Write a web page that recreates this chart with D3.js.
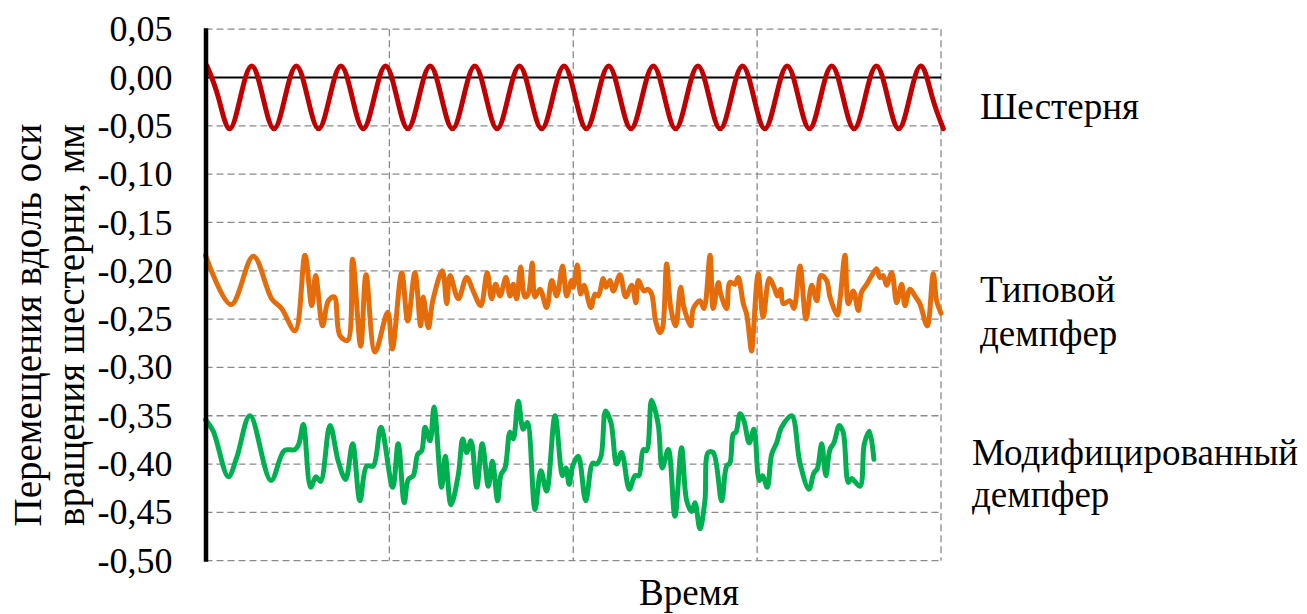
<!DOCTYPE html>
<html><head><meta charset="utf-8">
<script src="https://cdn.jsdelivr.net/npm/d3@7"></script>
<style>
html,body{margin:0;padding:0;background:#fff;}
svg text{font-family:"Liberation Serif","Times New Roman",serif;fill:#000;}
</style></head>
<body>
<svg id="chart" width="1307" height="614"></svg>
<script>
// ---- data ----
const yTicks = [0.05, 0, -0.05, -0.10, -0.15, -0.20, -0.25, -0.30, -0.35, -0.40, -0.45, -0.50];
const timeGrid = [0, 100, 200, 300, 400];
const seriesNames = ["Шестерня", "Типовой демпфер", "Модифицированный демпфер"];
const yTitle = ["Перемещения вдоль оси", "вращения шестерни, мм"];
const xTitle = "Время";

// Шестерня: values read at each quarter period (peak / middle / trough)
const gearStart = 0.85, gearStep = 6.067;
const gearVals = [
 0.012,-0.020,-0.053,-0.020, 0.012,-0.020,-0.053,-0.020, 0.012,-0.020,-0.053,-0.020,
 0.012,-0.020,-0.053,-0.020, 0.012,-0.020,-0.053,-0.020, 0.012,-0.020,-0.053,-0.020,
 0.012,-0.020,-0.053,-0.020, 0.012,-0.020,-0.053,-0.020, 0.012,-0.020,-0.053,-0.020,
 0.012,-0.020,-0.053,-0.020, 0.012,-0.020,-0.053,-0.020, 0.012,-0.020,-0.053,-0.020,
 0.012,-0.020,-0.053,-0.020, 0.012,-0.020,-0.053,-0.020, 0.012,-0.020,-0.053,-0.020,
 0.012,-0.020,-0.053,-0.020, 0.012,-0.020,-0.053];

// Типовой демпфер: [time, value]
const typicalPts = [[0,-0.184],[13.9,-0.235],[26.0,-0.185],[36.0,-0.229],[41.4,-0.239],[48.7,-0.262],[54.1,-0.184],[57.8,-0.236],[59.9,-0.205],[63.7,-0.257],[66.8,-0.231],[70.0,-0.227],[73.1,-0.267],[77.3,-0.272],[80.0,-0.188],[84.4,-0.278],[87.3,-0.204],[92.2,-0.284],[99.1,-0.243],[101.6,-0.281],[106.7,-0.202],[110.0,-0.252],[113.9,-0.202],[117.0,-0.257],[118.4,-0.227],[121.2,-0.259],[123.6,-0.231],[128.8,-0.200],[131.2,-0.234],[133.0,-0.205],[137.5,-0.229],[142.0,-0.207],[145.6,-0.221],[149.7,-0.236],[153.2,-0.202],[155.6,-0.229],[157.8,-0.214],[160.2,-0.226],[163.4,-0.207],[165.6,-0.226],[167.4,-0.214],[169.2,-0.229],[171.4,-0.196],[173.7,-0.227],[175.5,-0.224],[177.7,-0.192],[179.2,-0.227],[181.9,-0.219],[185.5,-0.238],[188.3,-0.210],[191.0,-0.226],[194.2,-0.195],[196.4,-0.226],[199.1,-0.210],[200.0,-0.217],[202.2,-0.194],[204.0,-0.224],[205.8,-0.215],[209.6,-0.238],[211.8,-0.224],[213.6,-0.226],[216.3,-0.208],[217.8,-0.217],[220.0,-0.210],[221.8,-0.221],[225.4,-0.204],[228.5,-0.227],[231.8,-0.215],[234.1,-0.233],[235.4,-0.210],[238.5,-0.221],[240.5,-0.219],[242.6,-0.224],[244.8,-0.252],[247.2,-0.264],[248.6,-0.259],[250.8,-0.193],[253.0,-0.238],[255.7,-0.257],[258.4,-0.217],[260.2,-0.238],[263.9,-0.257],[265.3,-0.239],[268.9,-0.231],[271.1,-0.239],[274.4,-0.184],[276.1,-0.239],[278.9,-0.212],[280.2,-0.224],[283.4,-0.239],[285.2,-0.212],[287.9,-0.214],[289.7,-0.207],[292.5,-0.234],[294.3,-0.245],[297.0,-0.283],[297.9,-0.265],[300.6,-0.203],[303.3,-0.248],[306.6,-0.208],[309.2,-0.217],[311.0,-0.226],[312.8,-0.219],[314.2,-0.234],[317.9,-0.231],[320.0,-0.239],[323.3,-0.195],[326.6,-0.250],[329.7,-0.215],[332.4,-0.231],[334.7,-0.205],[337.8,-0.210],[339.6,-0.227],[343.6,-0.246],[345.0,-0.231],[347.8,-0.184],[349.6,-0.234],[352.3,-0.221],[355.0,-0.241],[356.8,-0.222],[359.6,-0.214],[362.3,-0.205],[365.0,-0.198],[366.8,-0.207],[368.6,-0.205],[370.4,-0.215],[373.2,-0.202],[375.9,-0.233],[378.6,-0.214],[380.4,-0.236],[383.1,-0.219],[385.8,-0.226],[388.5,-0.234],[392.5,-0.257],[395.8,-0.203],[397.6,-0.231],[400,-0.244]];

// Модифицированный демпфер: [time, value]
const modifiedPts = [[0,-0.354],[4.2,-0.366],[12.4,-0.413],[17.0,-0.393],[24.2,-0.350],[35.6,-0.417],[42.9,-0.386],[48.7,-0.385],[50.8,-0.379],[53.2,-0.359],[57.2,-0.424],[60.1,-0.413],[62.6,-0.418],[67.7,-0.360],[72.2,-0.397],[76.2,-0.416],[80.0,-0.379],[84.0,-0.438],[87.7,-0.402],[91.2,-0.402],[95.4,-0.362],[101.8,-0.424],[104.8,-0.379],[108.1,-0.440],[110.3,-0.416],[113.0,-0.412],[115.4,-0.390],[117.6,-0.386],[119.4,-0.362],[122.1,-0.376],[124.3,-0.341],[128.4,-0.424],[130.4,-0.392],[133.5,-0.442],[137.5,-0.411],[139.9,-0.374],[142.0,-0.388],[144.4,-0.376],[147.5,-0.424],[150.5,-0.379],[153.8,-0.423],[156.0,-0.397],[158.9,-0.438],[160.7,-0.411],[162.9,-0.404],[165.6,-0.367],[167.4,-0.374],[170.1,-0.335],[172.8,-0.364],[175.0,-0.357],[179.2,-0.447],[182.4,-0.407],[185.5,-0.428],[190.1,-0.350],[194.2,-0.412],[196.0,-0.404],[197.8,-0.421],[199.7,-0.402],[202.7,-0.392],[206.8,-0.438],[210.6,-0.399],[212.7,-0.400],[215.1,-0.392],[217.6,-0.345],[220.5,-0.357],[223.6,-0.400],[226.3,-0.388],[230.5,-0.426],[233.6,-0.412],[235.7,-0.412],[238.1,-0.385],[239.9,-0.386],[242.6,-0.334],[246.2,-0.359],[248.4,-0.404],[251.7,-0.385],[255.3,-0.454],[258.9,-0.383],[261.7,-0.438],[264.4,-0.449],[266.2,-0.440],[268.9,-0.467],[271.6,-0.438],[273.4,-0.388],[276.1,-0.388],[280.7,-0.438],[283.4,-0.402],[285.2,-0.399],[287.0,-0.369],[288.5,-0.367],[290.7,-0.348],[292.8,-0.355],[295.7,-0.378],[298.3,-0.364],[301.2,-0.417],[303.0,-0.412],[305.5,-0.424],[307.9,-0.390],[310.6,-0.378],[313.3,-0.362],[318.8,-0.350],[323.3,-0.399],[328.2,-0.426],[330.9,-0.409],[332.7,-0.405],[335.1,-0.379],[337.4,-0.412],[339.6,-0.385],[341.8,-0.378],[344.7,-0.360],[346.8,-0.367],[349.6,-0.419],[351.4,-0.415],[355.9,-0.423],[358.3,-0.379],[361.0,-0.366],[363.5,-0.395]];

const colors = ["#C00000", "#E46C0A", "#00B050"];

// ---- drawing ----
const svg = d3.select("#chart");
svg.append("rect").attr("width",1307).attr("height",614).attr("fill","#fff");

const x = d3.scaleLinear().domain([0, 400]).range([205.5, 941]);
const y = d3.scaleLinear().domain([-0.5, 0.05]).range([560.7, 29.2]);

const grid = svg.append("g").attr("stroke","#8a8a8a").attr("stroke-width",1.3).attr("stroke-dasharray","7,4").attr("fill","none");
grid.selectAll("line.h").data(yTicks.filter(v => v !== 0)).join("line")
  .attr("x1", x(0)).attr("x2", x(400)).attr("y1", d => y(d)).attr("y2", d => y(d));
grid.selectAll("line.v").data(timeGrid.slice(1)).join("line")
  .attr("x1", d => x(d)).attr("x2", d => x(d)).attr("y1", y(0.05)).attr("y2", y(-0.5));

// zero line (horizontal axis)
svg.append("line").attr("x1", x(0)).attr("x2", x(400)).attr("y1", y(0)).attr("y2", y(0))
  .attr("stroke","#000").attr("stroke-width",2);

const gearPts = gearVals.map((v,i) => [gearStart + gearStep*i, v]);

const lineNat = d3.line().x(d => x(d[0])).y(d => y(d[1])).curve(d3.curveNatural);
const lineCR = d3.line().x(d => x(d[0])).y(d => y(d[1])).curve(d3.curveCatmullRom.alpha(0.5));

const sw = 5;
svg.append("path").attr("d", lineNat(gearPts)).attr("fill","none").attr("stroke",colors[0])
  .attr("stroke-width",sw).attr("stroke-linejoin","round").attr("stroke-linecap","round");
svg.append("path").attr("d", lineCR(typicalPts)).attr("fill","none").attr("stroke",colors[1])
  .attr("stroke-width",sw).attr("stroke-linejoin","round").attr("stroke-linecap","round");
svg.append("path").attr("d", lineCR(modifiedPts)).attr("fill","none").attr("stroke",colors[2])
  .attr("stroke-width",sw).attr("stroke-linejoin","round").attr("stroke-linecap","round");

// vertical axis
const fmt = v => (v < 0 ? "-" : "") + Math.abs(v).toFixed(2).replace(".", ",");
const yAxis = d3.axisLeft(y).tickValues(yTicks).tickFormat(fmt).tickSize(0).tickPadding(33);
const ga = svg.append("g").attr("transform", `translate(${x(0)},0)`).call(yAxis);
ga.select(".domain").remove();
ga.selectAll("text").attr("font-size", 36).attr("font-family", "Liberation Serif").attr("fill","#000");

svg.append("line").attr("x1", x(0)+0.5).attr("x2", x(0)+0.5).attr("y1", y(0.05)-1).attr("y2", y(-0.5)+1)
  .attr("stroke","#000").attr("stroke-width",4.5);

// axis titles
const yt = svg.append("text").attr("font-size",39).attr("text-anchor","middle")
  .attr("transform","translate(0,325) rotate(-90)");
yt.append("tspan").attr("x",0).attr("y",41).text(yTitle[0]);
yt.append("tspan").attr("x",0).attr("y",84).text(yTitle[1]);

svg.append("text").attr("x",689).attr("y",605).attr("font-size",37).attr("text-anchor","middle").text(xTitle);

// series labels
const lab = svg.append("g").attr("font-size",37);
lab.append("text").attr("x",980).attr("y",119).text(seriesNames[0]);
const t2 = seriesNames[1].split(" ");
lab.append("text").attr("x",980).attr("y",302).text(t2[0]);
lab.append("text").attr("x",980).attr("y",346).text(t2[1]);
const t3 = seriesNames[2].split(" ");
lab.append("text").attr("x",972).attr("y",465).text(t3[0]);
lab.append("text").attr("x",972).attr("y",507).text(t3[1]);
</script>
</body></html>
